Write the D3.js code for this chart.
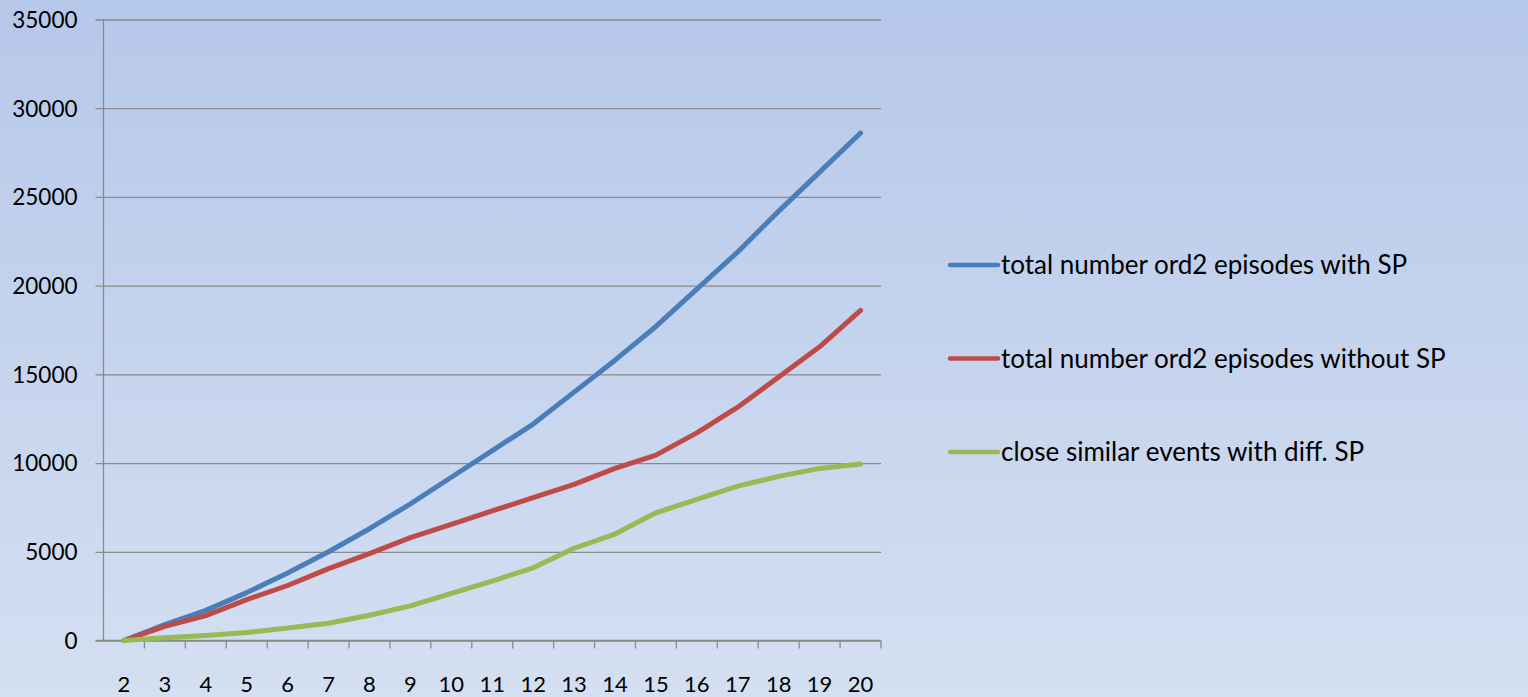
<!DOCTYPE html>
<html>
<head>
<meta charset="utf-8">
<script src="https://cdn.jsdelivr.net/npm/d3@7"></script>
<style>
  html, body { margin: 0; padding: 0; }
  body { width: 1528px; height: 697px; overflow: hidden; }
</style>
</head>
<body>
<svg id="chart" width="1528" height="697"></svg>
<script>
// Episode counts by order, three series
const categories = [2, 3, 4, 5, 6, 7, 8, 9, 10, 11, 12, 13, 14, 15, 16, 17, 18, 19, 20];
const withSP = [0, 900, 1700, 2700, 3800, 5000, 6300, 7700, 9200, 10700, 12200, 14000, 15800, 17700, 19800, 21900, 24200, 26400, 28600];
const withoutSP = [0, 800, 1400, 2300, 3100, 4050, 4900, 5800, 6550, 7300, 8050, 8800, 9700, 10450, 11700, 13150, 14850, 16550, 18600];
const closeSimilar = [0, 150, 280, 450, 700, 970, 1420, 1950, 2650, 3350, 4100, 5200, 6000, 7200, 7950, 8700, 9250, 9700, 9950];
const seriesNames = [
  "total number ord2 episodes with SP",
  "total number ord2 episodes without SP",
  "close similar events with diff. SP"
];
const yTicks = [0, 5000, 10000, 15000, 20000, 25000, 30000, 35000];

const series = [
  { name: seriesNames[0], values: withSP, color: "#4a7ebb" },
  { name: seriesNames[1], values: withoutSP, color: "#be4b48" },
  { name: seriesNames[2], values: closeSimilar, color: "#98b954" }
];

const W = 1528, H = 697;
const plot = { left: 103.5, right: 881, top: 19.5, bottom: 640.5 };
const font = "Lato, 'Liberation Sans', sans-serif";

const svg = d3.select("#chart");

// Background gradient
const defs = svg.append("defs");
const grad = defs.append("linearGradient")
  .attr("id", "bg").attr("x1", 0).attr("y1", 0).attr("x2", 0).attr("y2", 1);
grad.append("stop").attr("offset", "0%").attr("stop-color", "#b6c8ea");
grad.append("stop").attr("offset", "100%").attr("stop-color", "#d4dff1");
svg.append("rect").attr("width", W).attr("height", H).attr("fill", "url(#bg)");

const x = d3.scaleBand().domain(categories).range([plot.left, plot.right]).padding(0);
const y = d3.scaleLinear().domain([0, 35000]).range([plot.bottom, plot.top]);
const cx = d => x(d) + x.bandwidth() / 2;

const gridColor = "#8a8a8a";

// Horizontal gridlines with left tick marks
const yAxis = d3.axisLeft(y).tickValues(yTicks).tickSize(-(plot.right - plot.left)).tickPadding(0).tickFormat(d3.format("d"));
const gy = svg.append("g").attr("transform", `translate(${plot.left},0)`).call(yAxis);
gy.select(".domain").remove();
gy.selectAll(".tick line").attr("stroke", gridColor).attr("stroke-width", 1.3).attr("x1", -8);
gy.selectAll(".tick text")
  .attr("x", -26)
  .attr("dy", "0.35em")
  .attr("fill", "#000")
  .style("font-family", font)
  .style("font-size", "22.5px");

// Vertical axis line
svg.append("line")
  .attr("x1", plot.left).attr("x2", plot.left)
  .attr("y1", plot.top).attr("y2", plot.bottom)
  .attr("stroke", gridColor).attr("stroke-width", 1.3);

// Category axis with tick marks at band boundaries
const gx = svg.append("g").attr("transform", `translate(0,${plot.bottom})`);
gx.append("line")
  .attr("x1", plot.left - 8).attr("x2", plot.right)
  .attr("stroke", gridColor).attr("stroke-width", 1.3);
const boundaries = categories.map(c => x(c)).concat([x(categories[categories.length - 1]) + x.bandwidth()]);
gx.selectAll(".bt").data(boundaries.slice(1)).enter().append("line")
  .attr("x1", d => d).attr("x2", d => d)
  .attr("y1", 0).attr("y2", 8)
  .attr("stroke", gridColor).attr("stroke-width", 1.3);
gx.selectAll(".lbl").data(categories).enter().append("text")
  .attr("x", d => cx(d))
  .attr("y", 44)
  .attr("dy", "0.35em")
  .attr("text-anchor", "middle")
  .attr("fill", "#000")
  .style("font-family", font)
  .style("font-size", "22px")
  .text(d => d);

// Series lines
const line = d3.line()
  .x((d, i) => cx(categories[i]))
  .y(d => y(d));
svg.append("g").selectAll("path").data(series).enter().append("path")
  .attr("d", s => line(s.values))
  .attr("fill", "none")
  .attr("stroke", s => s.color)
  .attr("stroke-width", 5)
  .attr("stroke-linecap", "round")
  .attr("stroke-linejoin", "round");

// Legend
const legendY = [265, 358.5, 452];
const lg = svg.append("g").selectAll("g").data(series).enter().append("g")
  .attr("transform", (s, i) => `translate(950,${legendY[i]})`);
lg.append("line")
  .attr("x1", 0).attr("x2", 48)
  .attr("stroke", s => s.color).attr("stroke-width", 4.5)
  .attr("stroke-linecap", "round");
lg.append("text")
  .attr("x", 51)
  .attr("dy", "0.35em")
  .attr("fill", "#000")
  .style("font-family", font)
  .style("font-size", "26px")
  .text(s => s.name);
</script>
</body>
</html>
